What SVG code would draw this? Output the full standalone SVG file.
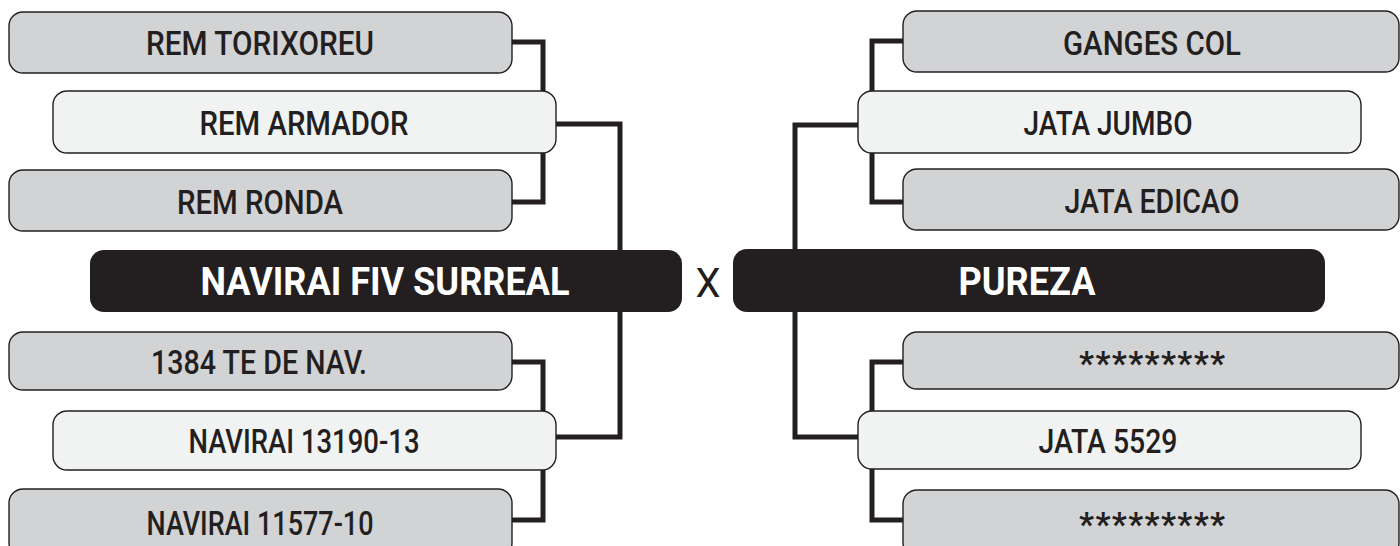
<svg xmlns="http://www.w3.org/2000/svg" width="1400" height="546" viewBox="0 0 1400 546">
<style>
.wire{fill:none;stroke:#231f20;stroke-width:5;stroke-linejoin:miter;stroke-linecap:butt}
.g{fill:#d1d3d4;stroke:#231f20;stroke-width:1.4}
.l{fill:#f1f2f2;stroke:#231f20;stroke-width:1.4}
.d{fill:#231f20;stroke:none}
.t{font-family:Roboto,"Liberation Sans",sans-serif;font-weight:500;font-size:33px;fill:#231f20;text-anchor:middle}
.s{font-family:Roboto,"Liberation Sans",sans-serif;font-weight:700;font-size:33px;fill:#231f20;text-anchor:middle}
.tb{font-family:Roboto,"Liberation Sans",sans-serif;font-weight:700;font-size:38px;fill:#ffffff;text-anchor:middle}
.x{font-family:Roboto,"Liberation Sans",sans-serif;font-weight:400;font-size:41px;fill:#231f20;text-anchor:middle}
</style>
<rect width="1400" height="546" fill="#ffffff"/>
<g id="connectors">
<path class="wire" d="M510,42 H543 V93"/>
<path class="wire" d="M543,151 V202 H510"/>
<path class="wire" d="M554,124 H620 V437 H554"/>
<path class="wire" d="M510,362 H543 V413"/>
<path class="wire" d="M543,468 V520 H510"/>
<path class="wire" d="M905,41 H872 V93"/>
<path class="wire" d="M872,151 V202 H905"/>
<path class="wire" d="M860,125 H795 V437 H860"/>
<path class="wire" d="M905,362 H872 V413"/>
<path class="wire" d="M872,467 V520 H905"/>
</g>
<g id="n-rem-torixoreu"><rect class="g" x="9" y="12" width="503" height="61" rx="14"/><text class="t" x="260" y="55" textLength="228" lengthAdjust="spacingAndGlyphs">REM TORIXOREU</text></g>
<g id="n-rem-armador"><rect class="l" x="53" y="91" width="503" height="62" rx="14"/><text class="t" x="304" y="134.5" textLength="209" lengthAdjust="spacingAndGlyphs">REM ARMADOR</text></g>
<g id="n-rem-ronda"><rect class="g" x="9" y="170" width="503" height="61" rx="14"/><text class="t" x="260" y="213.5" textLength="166" lengthAdjust="spacingAndGlyphs">REM RONDA</text></g>
<g id="n-navirai-fiv-surreal"><rect class="d" x="90" y="250" width="592" height="62" rx="14"/><text class="tb" x="385" y="295" textLength="369" lengthAdjust="spacingAndGlyphs">NAVIRAI FIV SURREAL</text></g>
<g id="n-1384"><rect class="g" x="9" y="332" width="503" height="58" rx="14"/><text class="t" x="259" y="374" textLength="216" lengthAdjust="spacingAndGlyphs">1384 TE DE NAV.</text></g>
<g id="n-navirai-13190"><rect class="l" x="53" y="411" width="503" height="59" rx="14"/><text class="t" x="304" y="453" textLength="231" lengthAdjust="spacingAndGlyphs">NAVIRAI 13190-13</text></g>
<g id="n-navirai-11577"><rect class="g" x="9" y="489" width="503" height="68" rx="14"/><text class="t" x="260" y="535" textLength="227" lengthAdjust="spacingAndGlyphs">NAVIRAI 11577-10</text></g>
<g id="n-x"><text class="x" x="708" y="297" textLength="25" lengthAdjust="spacingAndGlyphs">X</text></g>
<g id="n-ganges-col"><rect class="g" x="903" y="11" width="496" height="61" rx="14"/><text class="t" x="1152" y="55" textLength="178" lengthAdjust="spacingAndGlyphs">GANGES COL</text></g>
<g id="n-jata-jumbo"><rect class="l" x="858" y="91" width="503" height="62" rx="14"/><text class="t" x="1108" y="135" textLength="169" lengthAdjust="spacingAndGlyphs">JATA JUMBO</text></g>
<g id="n-jata-edicao"><rect class="g" x="903" y="169" width="496" height="61" rx="14"/><text class="t" x="1152" y="213" textLength="175" lengthAdjust="spacingAndGlyphs">JATA EDICAO</text></g>
<g id="n-pureza"><rect class="d" x="733" y="249" width="592" height="63" rx="14"/><text class="tb" x="1027" y="295" textLength="137" lengthAdjust="spacingAndGlyphs">PUREZA</text></g>
<g id="n-stars-1"><rect class="g" x="903" y="332" width="496" height="57" rx="14"/><text class="s" x="1152" y="375" textLength="146" lengthAdjust="spacing">*********</text></g>
<g id="n-jata-5529"><rect class="l" x="858" y="411" width="503" height="58" rx="14"/><text class="t" x="1108" y="453" textLength="139" lengthAdjust="spacingAndGlyphs">JATA 5529</text></g>
<g id="n-stars-2"><rect class="g" x="903" y="490" width="496" height="67" rx="14"/><text class="s" x="1152" y="536" textLength="146" lengthAdjust="spacing">*********</text></g>
</svg>
